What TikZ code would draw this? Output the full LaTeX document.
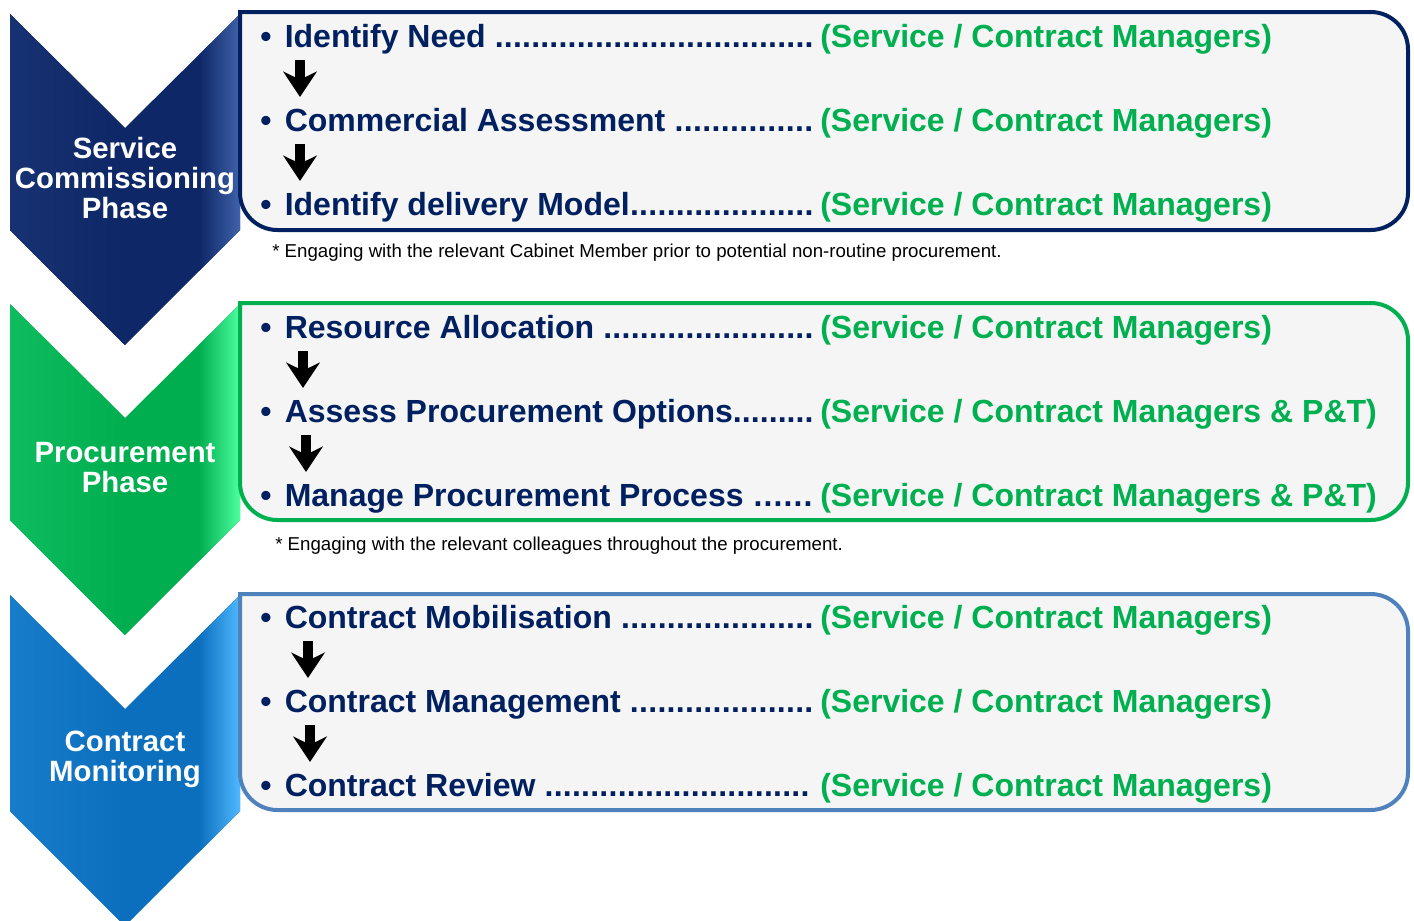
\documentclass[tikz,border=0pt]{standalone}
\usepackage{fontspec}
\setmainfont{Liberation Sans}
\usetikzlibrary{arrows.meta}

\definecolor{navytxt}{HTML}{002060}
\definecolor{greentxt}{HTML}{00B050}
\definecolor{boxfill}{HTML}{F5F5F5}
\definecolor{steelline}{HTML}{4F81BD}
\definecolor{chevnavy}{HTML}{0E2766}
\definecolor{chevnavylt}{HTML}{3F62AA}
\definecolor{chevgreen}{HTML}{00AE50}
\definecolor{chevgreenlt}{HTML}{4DFF9E}
\definecolor{chevblue}{HTML}{0B6FBE}
\definecolor{chevbluelt}{HTML}{4FB8FF}

\begin{document}
\begin{tikzpicture}[x=0.75pt,y=0.75pt,yscale=-1,xscale=1,
  phasetxt/.style={text=white,font=\bfseries\fontsize{22}{22.5}\selectfont,align=center},
  itemtxt/.style={anchor=base west,inner sep=0pt,text=navytxt,font=\bfseries\fontsize{24}{28}\selectfont},
  whotxt/.style={anchor=base west,inner sep=0pt,text=greentxt,font=\bfseries\fontsize{24}{28}\selectfont},
  notetxt/.style={anchor=west,inner sep=0pt,font=\fontsize{14}{16}\selectfont},
  downarr/.style={line width=7.5pt,-{Stealth[length=19pt,width=25pt,inset=6pt]}},
  phasebox/.style={fill=boxfill,line width=3pt}]
\useasboundingbox (0,0) rectangle (1414,921);

%Chevrons
\foreach \y/\c/\cl in {14/chevnavy/chevnavylt, 304/chevgreen/chevgreenlt, 595/chevblue/chevbluelt} {
  \fill [\c] (10,\y) -- (125,\y+114) -- (240,\y) -- (240,\y+216) -- (125,\y+331) -- (10,\y+216) -- cycle;
  \shade [left color=\cl!18!\c, right color=\c] (10,\y) -- (125,\y+114) -- (125,\y+331) -- (10,\y+216) -- cycle;
  \shade [left color=\c, right color=\cl] (199,\y+41) -- (240,\y) -- (240,\y+216) -- (199,\y+257) -- cycle;
}

%Boxes
\draw [phasebox,draw=navytxt] (240,12) [rounded corners=28] -- (1408,12) -- (1408,230) -- (240,230) [sharp corners] -- cycle;
\draw [phasebox,draw=greentxt] (240,303) [rounded corners=28] -- (1408,303) -- (1408,520) -- (240,520) [sharp corners] -- cycle;
\draw [phasebox,draw=steelline] (240,594) [rounded corners=28] -- (1408,594) -- (1408,810) -- (240,810) [sharp corners] -- cycle;

% Phase labels
\node [phasetxt] (ph1) at (125,178) {Service\\Commissioning\\Phase};
\node [phasetxt] (ph2) at (125,468) {Procurement\\Phase};
\node [phasetxt] (ph3) at (125,759) {Contract\\Monitoring};

% Items
\node [itemtxt] (i1) at (260,47) {\makebox[415pt][l]{\textbullet\hspace{10pt}Identify Need \xleaders\hbox{.}\hfill}};
\node [itemtxt] (i2) at (260,131) {\makebox[415pt][l]{\textbullet\hspace{10pt}Commercial Assessment \xleaders\hbox{.}\hfill}};
\node [itemtxt] (i3) at (260,215) {\makebox[415pt][l]{\textbullet\hspace{10pt}Identify delivery Model\xleaders\hbox{.}\hfill}};
\node [itemtxt] (i4) at (260,338) {\makebox[415pt][l]{\textbullet\hspace{10pt}Resource Allocation \xleaders\hbox{.}\hfill}};
\node [itemtxt] (i5) at (260,422) {\makebox[415pt][l]{\textbullet\hspace{10pt}Assess Procurement Options\xleaders\hbox{.}\hfill}};
\node [itemtxt] (i6) at (260,506) {\makebox[415pt][l]{\textbullet\hspace{10pt}Manage Procurement Process \xleaders\hbox{.}\hfill}};
\node [itemtxt] (i7) at (260,628) {\makebox[415pt][l]{\textbullet\hspace{10pt}Contract Mobilisation \xleaders\hbox{.}\hfill}};
\node [itemtxt] (i8) at (260,712) {\makebox[415pt][l]{\textbullet\hspace{10pt}Contract Management \xleaders\hbox{.}\hfill}};
\node [itemtxt] (i9) at (260,796) {\makebox[412pt][l]{\textbullet\hspace{10pt}Contract Review \xleaders\hbox{.}\hfill}};

% Who
\node [whotxt] (w1) at (820,47) {(Service / Contract Managers)};
\node [whotxt] (w2) at (820,131) {(Service / Contract Managers)};
\node [whotxt] (w3) at (820,215) {(Service / Contract Managers)};
\node [whotxt] (w4) at (820,338) {(Service / Contract Managers)};
\node [whotxt] (w5) at (820,422) {(Service / Contract Managers \& P\&T)};
\node [whotxt] (w6) at (820,506) {(Service / Contract Managers \& P\&T)};
\node [whotxt] (w7) at (820,628) {(Service / Contract Managers)};
\node [whotxt] (w8) at (820,712) {(Service / Contract Managers)};
\node [whotxt] (w9) at (820,796) {(Service / Contract Managers)};

% Notes
\node [notetxt] (n1) at (272,253) {* Engaging with the relevant Cabinet Member prior to potential non-routine procurement.};
\node [notetxt] (n2) at (275,546) {* Engaging with the relevant colleagues throughout the procurement.};

% Arrows
\draw [downarr] ([shift={(40,13)}]i1.base west) -- ([shift={(40,-34)}]i2.base west);
\draw [downarr] ([shift={(40,13)}]i2.base west) -- ([shift={(40,-34)}]i3.base west);
\draw [downarr] ([shift={(43,13)}]i4.base west) -- ([shift={(43,-34)}]i5.base west);
\draw [downarr] ([shift={(46,13)}]i5.base west) -- ([shift={(46,-34)}]i6.base west);
\draw [downarr] ([shift={(48,13)}]i7.base west) -- ([shift={(48,-34)}]i8.base west);
\draw [downarr] ([shift={(50,13)}]i8.base west) -- ([shift={(50,-34)}]i9.base west);

\end{tikzpicture}
\end{document}
